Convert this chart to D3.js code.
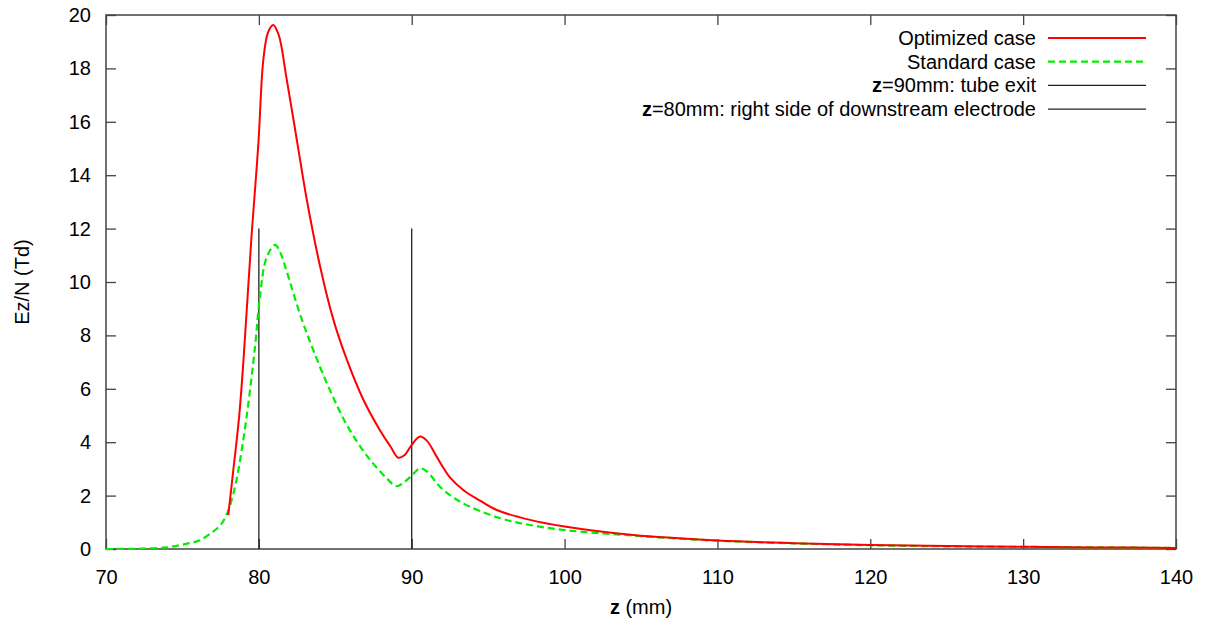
<!DOCTYPE html>
<html>
<head>
<meta charset="utf-8">
<script src="https://cdn.jsdelivr.net/npm/d3@7"></script>
<style>
  body { margin: 0; background: #fff; }
  svg { font-family: Arial, "Liberation Sans", sans-serif; }
</style>
</head>
<body>
<div id="plot"></div>
<script>
// values
var optZ = [78.0, 78.33, 78.7, 78.98, 79.53, 79.97, 80.29, 80.6, 80.94, 81.3, 81.82, 82.69, 83.13, 84.0, 84.87, 85.75, 86.83, 87.92, 88.6, 89.12, 89.5, 90.0, 90.54, 91.0, 91.63, 92.5, 93.39, 94.5, 95.56, 97.74, 100, 104.5, 110, 115, 120, 125, 130, 135, 140];
var optY = [1.27, 2.96, 4.9, 6.95, 11.8, 15.19, 18.31, 19.35, 19.63, 19.25, 17.6, 14.6, 13.1, 10.6, 8.6, 7.1, 5.6, 4.45, 3.85, 3.42, 3.5, 3.9, 4.21, 4.05, 3.46, 2.68, 2.2, 1.8, 1.46, 1.09, 0.84, 0.52, 0.32, 0.22, 0.15, 0.11, 0.08, 0.06, 0.04];

var stdZ = [70, 72, 73.97, 75.3, 76.15, 77.0, 77.5, 77.9, 78.3, 78.66, 79.2, 79.75, 80.07, 80.5, 81.06, 81.4, 81.82, 82.69, 83.56, 84.65, 85.75, 87.06, 88.36, 89.01, 89.5, 90.0, 90.54, 91.0, 91.85, 92.8, 93.81, 95.8, 97.74, 100, 104.5, 110, 115, 120, 125, 130, 135, 140];
var stdY = [0, 0.01, 0.06, 0.2, 0.33, 0.65, 0.9, 1.3, 2.0, 2.96, 4.96, 7.58, 9.45, 10.9, 11.39, 11.1, 10.4, 8.8, 7.45, 5.95, 4.65, 3.5, 2.65, 2.35, 2.5, 2.75, 3.02, 2.9, 2.33, 1.9, 1.58, 1.15, 0.9, 0.71, 0.5, 0.31, 0.21, 0.14, 0.1, 0.08, 0.06, 0.04];

var markerZ = [90, 80];
var markerTop = 12;

var xTicks = [70, 80, 90, 100, 110, 120, 130, 140];
var yTicks = [0, 2, 4, 6, 8, 10, 12, 14, 16, 18, 20];

var legendLabels = [
  { bold: "", text: "Optimized case" },
  { bold: "", text: "Standard case" },
  { bold: "z", text: "=90mm: tube exit" },
  { bold: "z", text: "=80mm: right side of downstream electrode" }
];

var W = 1210, H = 626;
var mLeft = 106, mRight = 1176, mTop = 15, mBottom = 549;

var svg = d3.select("#plot").append("svg")
  .attr("width", W)
  .attr("height", H);

var xScale = d3.scaleLinear().domain([70, 140]).range([mLeft, mRight]);
var yScale = d3.scaleLinear().domain([0, 20]).range([mBottom, mTop]);

var axisColor = "#444";

function styleAxis(g, labels) {
  g.select(".domain").remove();
  g.selectAll(".tick line").attr("stroke", axisColor).attr("stroke-width", 1.3);
  if (!labels) g.selectAll(".tick text").remove();
  else g.selectAll(".tick text").attr("fill", "#000").style("font-size", "20px");
}

// bottom & top
svg.append("g")
  .attr("transform", "translate(0," + mBottom + ")")
  .call(d3.axisBottom(xScale).tickValues(xTicks).tickSize(-10).tickPadding(21))
  .call(function (g) { styleAxis(g, true); });
svg.append("g")
  .attr("transform", "translate(0," + mTop + ")")
  .call(d3.axisTop(xScale).tickValues(xTicks).tickSize(-10))
  .call(function (g) { styleAxis(g, false); });

// left & right
svg.append("g")
  .attr("transform", "translate(" + mLeft + ",0)")
  .call(d3.axisLeft(yScale).tickValues(yTicks).tickSize(-10).tickPadding(15))
  .call(function (g) { styleAxis(g, true); });
svg.append("g")
  .attr("transform", "translate(" + mRight + ",0)")
  .call(d3.axisRight(yScale).tickValues(yTicks).tickSize(-10))
  .call(function (g) { styleAxis(g, false); });

// frame
svg.append("rect")
  .attr("x", mLeft).attr("y", mTop)
  .attr("width", mRight - mLeft).attr("height", mBottom - mTop)
  .attr("fill", "none")
  .attr("stroke", axisColor)
  .attr("stroke-width", 1.5);

// marker lines
markerZ.forEach(function (z) {
  svg.append("line")
    .attr("x1", xScale(z)).attr("x2", xScale(z))
    .attr("y1", yScale(0)).attr("y2", yScale(markerTop))
    .attr("stroke", "#222")
    .attr("stroke-width", 1.3);
});

var line = d3.line()
  .x(function (d) { return xScale(d[0]); })
  .y(function (d) { return yScale(d[1]); })
  .curve(d3.curveCatmullRom.alpha(0.5));

var stdData = d3.zip(stdZ, stdY);
var optData = d3.zip(optZ, optY);

svg.append("path")
  .attr("d", line(stdData))
  .attr("fill", "none")
  .attr("stroke", "#00ee00")
  .attr("stroke-width", 2.2)
  .attr("stroke-dasharray", "7,4");

svg.append("path")
  .attr("d", line(optData))
  .attr("fill", "none")
  .attr("stroke", "#ff0000")
  .attr("stroke-width", 2);

// legend
var legendStyles = [
  { stroke: "#ff0000", dash: null, width: 2 },
  { stroke: "#00ee00", dash: "7,4", width: 2.2 },
  { stroke: "#222", dash: null, width: 1.3 },
  { stroke: "#222", dash: null, width: 1.3 }
];
legendLabels.forEach(function (l, i) {
  var y = 38 + i * 23.7;
  var t = svg.append("text")
    .attr("x", 1036).attr("y", y + 7)
    .attr("text-anchor", "end")
    .style("font-size", "20px");
  if (l.bold) t.append("tspan").attr("font-weight", "bold").text(l.bold);
  t.append("tspan").text(l.text);
  svg.append("line")
    .attr("x1", 1048).attr("x2", 1146)
    .attr("y1", y).attr("y2", y)
    .attr("stroke", legendStyles[i].stroke)
    .attr("stroke-width", legendStyles[i].width)
    .attr("stroke-dasharray", legendStyles[i].dash);
});

// axis titles
var xt = svg.append("text")
  .attr("x", 641).attr("y", 614)
  .attr("text-anchor", "middle")
  .style("font-size", "20px");
xt.append("tspan").attr("font-weight", "bold").text("z");
xt.append("tspan").text(" (mm)");

svg.append("text")
  .attr("transform", "translate(29,282) rotate(-90)")
  .attr("text-anchor", "middle")
  .style("font-size", "20px")
  .text("Ez/N (Td)");
</script>
</body>
</html>
